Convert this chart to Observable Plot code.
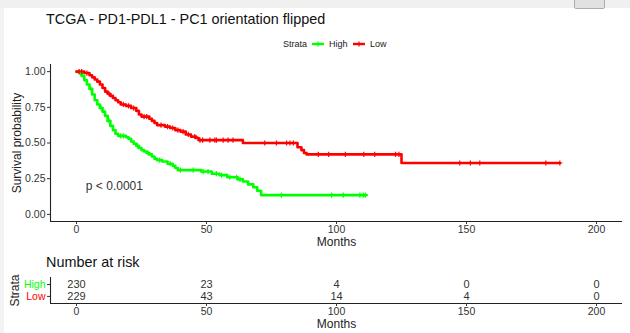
<!DOCTYPE html>
<html>
<head>
<meta charset="utf-8">
<script src="https://cdn.jsdelivr.net/npm/d3@7"></script>
<script src="https://cdn.jsdelivr.net/npm/@observablehq/plot@0.6"></script>
<style>
  html, body { margin: 0; padding: 0; background: #fff; }
  body { width: 630px; height: 333px; position: relative; overflow: hidden;
         font-family: "Liberation Sans", Arial, sans-serif; }
  .abs { position: absolute; white-space: nowrap; line-height: 1; }
  #topbar { left: 0; top: 0; width: 630px; height: 8px; background: #f0f0f0; }
  #btn { left: 574px; top: -2px; width: 29px; height: 9px; border: 1px solid #adadad; background: #e1e1e1; border-radius: 2px; }
  #leftbar { left: 0; top: 8px; width: 4px; height: 325px; background: #f3f3f3; }
  #title { left: 46px; top: 12px; font-size: 14.4px; color: #111; }
  #risktitle { left: 46px; top: 255px; font-size: 14.4px; color: #111; }
  .leg { font-size: 9px; color: #222; }
</style>
</head>
<body>
<div id="topbar" class="abs"></div>
<div id="btn" class="abs"></div>
<div id="leftbar" class="abs"></div>
<div id="title" class="abs">TCGA - PD1-PDL1 - PC1 orientation flipped</div>
<div id="legend"></div>
<div id="risktitle" class="abs">Number at risk</div>
<div id="main"></div>
<div id="table"></div>
<script>
// ---------------- data ----------------
const strata = ["High", "Low"];
const strataColors = ["#00FF00", "#FF0000"];

const highTimes = [0,1,2,3,4,5,6,7,8,9,10,11,12,13,14,15,16,19,20,21,22,23,24,25,26,27,28,29,30,31,33,35,37,38,39,48,52,55,58,62,64,66,68,69.5,71,111.5];
const highSurv  = [1,0.99,0.97,0.94,0.91,0.88,0.84,0.80,0.77,0.745,0.72,0.69,0.655,0.62,0.59,0.565,0.55,0.54,0.53,0.51,0.495,0.48,0.465,0.45,0.44,0.43,0.42,0.405,0.39,0.38,0.37,0.355,0.34,0.325,0.31,0.30,0.285,0.275,0.26,0.245,0.23,0.21,0.19,0.165,0.135,0.135];

const lowTimes = [0,3,5,6,7,8,9,10,11,12,13,14,15,16,17,19,21,23,24,25,28,29,30,31,34,36,38,40,42,44,46,47,64,85,86.5,87.5,88.5,125,185.9];
const lowSurv  = [1,0.99,0.975,0.96,0.945,0.93,0.91,0.885,0.86,0.845,0.83,0.815,0.80,0.785,0.77,0.76,0.745,0.725,0.70,0.685,0.67,0.655,0.64,0.625,0.615,0.605,0.59,0.58,0.56,0.545,0.535,0.52,0.50,0.47,0.45,0.43,0.42,0.36,0.36];

const highCensor = [1.5,5.5,9.5,12.5,17,18,23.5,27.5,32,36,40,44.9,48.7,50.6,53.8,55.8,59,61.6,62.9,78.8,98.1,102.6,109,110.3,111.1];
const lowCensor  = [1,2,4,12.5,18,20,22,26,27,32.5,35,37,39,41,43,45.5,47.5,48.5,51.3,53.2,53.8,56.4,58.3,60.2,72.4,76.9,80.8,82.1,83.4,93,97,103.4,110.5,114.7,122.7,124,147.4,151.5,155.1,180.5,185.9];

const riskTimes = [0, 50, 100, 150, 200];
const riskHigh  = [230, 23, 4, 0, 0];
const riskLow   = [229, 43, 14, 4, 0];

const xTicks = [0, 50, 100, 150, 200];
const yTicks = [0, 0.25, 0.5, 0.75, 1];
const pvalLabel = "p < 0.0001";
const xLabel = "Months";
const yLabel = "Survival probability";
const legendTitle = "Strata";

// ---------------- build ----------------
const FONT = "'Liberation Sans', Arial, sans-serif";
const series = [
  {name: "High", color: strataColors[0], times: highTimes, surv: highSurv, cens: highCensor},
  {name: "Low",  color: strataColors[1], times: lowTimes,  surv: lowSurv,  cens: lowCensor}
];
function survAt(s, t) {
  const i = Math.max(0, d3.bisectRight(s.times, t) - 1);
  return s.surv[i];
}
const curveData = series.flatMap(s => s.times.map((t, i) => ({strata: s.name, t, s: s.surv[i]})));
const censorData = series.flatMap(s => s.cens.map(t => ({strata: s.name, t, s: survAt(s, t)})));

const plusSymbol = {
  draw(context, size) {
    const r = Math.sqrt(size / Math.PI);
    context.moveTo(-r, 0); context.lineTo(r, 0);
    context.moveTo(0, -r); context.lineTo(0, r);
  }
};

const color = {domain: strata, range: strataColors};

const main = Plot.plot({
  width: 630, height: 192,
  marginLeft: 50, marginRight: 8, marginTop: 6, marginBottom: 29,
  x: {domain: [-10, 210]},
  y: {domain: [-0.05, 1.05]},
  color,
  style: {fontFamily: FONT, background: "transparent", overflow: "visible"},
  marks: [
    Plot.ruleX([-10], {stroke: "#222", strokeWidth: 1.1}),
    Plot.ruleY([-0.05], {stroke: "#222", strokeWidth: 1.1}),
    Plot.axisX({ticks: xTicks, tickSize: 3, tickPadding: 1.5, fontSize: 10.5, label: null, color: "#333"}),
    Plot.axisY({ticks: yTicks, tickFormat: d3.format(".2f"), tickSize: 3, tickPadding: 2, fontSize: 10.5, label: null, color: "#333"}),
    Plot.text([xLabel], {text: d => d, frameAnchor: "bottom", lineAnchor: "middle", dy: 20.5, fontSize: 12, fill: "#222"}),
    Plot.text([yLabel], {text: d => d, frameAnchor: "left", textAnchor: "middle", lineAnchor: "middle", rotate: -90, dx: -33, fontSize: 12, fill: "#222"}),
    Plot.line(curveData, {x: "t", y: "s", z: "strata", stroke: "strata", curve: "step-after", strokeWidth: 2.6}),
    Plot.dot(censorData, {x: "t", y: "s", stroke: "strata", symbol: plusSymbol, r: 2.6, strokeWidth: 1.2}),
    Plot.text([pvalLabel], {text: d => d, x: 3.6, y: 0.2, textAnchor: "start", fontSize: 12, fill: "#333"})
  ]
});
main.style.position = "absolute";
main.style.top = "58px";
main.style.left = "0px";
document.getElementById("main").appendChild(main);

// risk table
const rowPos = strata.map((d, i) => strata.length - i); // High -> 2, Low -> 1
const riskRows = [
  ...riskTimes.map((t, i) => ({strata: "High", row: rowPos[0], time: t, n: riskHigh[i]})),
  ...riskTimes.map((t, i) => ({strata: "Low",  row: rowPos[1], time: t, n: riskLow[i]}))
];
const table = Plot.plot({
  width: 630, height: 63,
  marginLeft: 50, marginRight: 8, marginTop: 7, marginBottom: 30,
  x: {domain: [-10, 210]},
  y: {domain: [0.4, 2.6]},
  color,
  style: {fontFamily: FONT, background: "transparent", overflow: "visible"},
  marks: [
    Plot.ruleX([-10], {stroke: "#222", strokeWidth: 1.1}),
    Plot.ruleY([0.4], {stroke: "#222", strokeWidth: 1.1}),
    Plot.axisX({ticks: xTicks, tickSize: 3, tickPadding: 1.5, fontSize: 10.5, label: null, color: "#333"}),
    Plot.axisY({ticks: rowPos, tickFormat: () => "", tickSize: 3, label: null, color: "#333"}),
    Plot.text(strata.map((s, i) => ({s, row: rowPos[i]})), {y: "row", text: "s", fill: "s", frameAnchor: "left", dx: -5, textAnchor: "end", lineAnchor: "middle", fontSize: 10.5}),
    Plot.text([legendTitle], {text: d => d, frameAnchor: "left", textAnchor: "middle", lineAnchor: "middle", rotate: -90, dx: -35, fontSize: 12, fill: "#222"}),
    Plot.text(riskRows, {x: "time", y: "row", text: "n", fontSize: 11, fill: "#333"}),
    Plot.text([xLabel], {text: d => d, frameAnchor: "bottom", lineAnchor: "middle", dy: 21, fontSize: 12, fill: "#222"})
  ]
});
table.style.position = "absolute";
table.style.top = "270px";
table.style.left = "0px";
document.getElementById("table").appendChild(table);

// legend (HTML, above the chart)
const leg = document.getElementById("legend");
const legPos = {title: 283, keys: [313, 354], labels: [329, 370], top: 39};
function addSpan(text, left) {
  const el = document.createElement("div");
  el.className = "abs leg";
  el.style.left = left + "px";
  el.style.top = (legPos.top + 0.5) + "px";
  el.textContent = text;
  leg.appendChild(el);
}
addSpan(legendTitle, legPos.title);
strata.forEach((s, i) => {
  const k = document.createElementNS("http://www.w3.org/2000/svg", "svg");
  k.setAttribute("width", 12); k.setAttribute("height", 10);
  k.style.position = "absolute";
  k.style.left = (legPos.keys[i] - 1) + "px";
  k.style.top = legPos.top + "px";
  k.innerHTML = `<line x1="0" y1="5" x2="12" y2="5" stroke="${strataColors[i]}" stroke-width="2.4"/>` +
    `<path d="M6 2.4V7.6M3.4 5H8.6" stroke="${strataColors[i]}" stroke-width="1.2" fill="none"/>`;
  leg.appendChild(k);
  addSpan(s, legPos.labels[i]);
});
</script>
</body>
</html>
